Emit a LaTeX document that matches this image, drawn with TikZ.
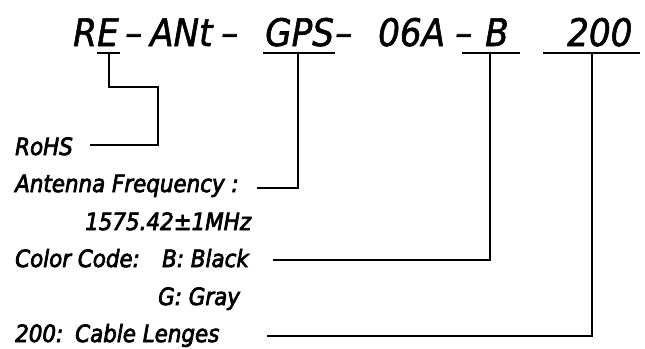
\documentclass[tikz,border=0pt]{standalone}
\usepackage{fontspec}
\setmainfont{DejaVu Sans Condensed}[ItalicFont={DejaVu Sans Condensed Oblique}]
\newfontfamily\partfont{DejaVu Sans Condensed Oblique}[FakeBold=1.5]
\newfontfamily\descfont{DejaVu Sans Condensed Oblique}[FakeBold=3]
\usetikzlibrary{positioning}

\begin{document}
\begin{tikzpicture}[x=1pt, y=-1pt,
  partno/.style={anchor=base west, inner sep=0pt, font=\fontsize{38}{40}\partfont},
  desc/.style={anchor=base west, inner sep=0pt, font=\fontsize{23.8}{28}\descfont},
  lead/.style={line width=1.8pt},
]
\useasboundingbox (0,0) rectangle (645,348);

% part number
\node[partno] (pR)   at (73,46)  {R};
\node[partno] (pE)   at (97,46)  {E};
\node[partno] (d1)   at (125,46) {–};
\node[partno] (pANt) at (150,46) {ANt};
\node[partno] (d2)   at (221,46) {–};
\node[partno] (pGPS) at (265,46) {GPS};
\node[partno] (d3)   at (335,46) {–};
\node[partno] (p06A) at (378,46) {06A};
\node[partno] (d4)   at (455,46) {–};
\node[partno] (pB)   at (485,46) {B};
\node[partno] (p200) at (567,46) {200};

\draw[lead] (97,53) -- (120,53);
\draw[lead] (263,53) -- (335,53);
\draw[lead] (462,53) -- (520,53);
\draw[lead] (543,53) -- (640,53);

\coordinate (uE)   at (109,53);
\coordinate (uGPS) at (298,53);
\coordinate (uB)   at (490,53);
\coordinate (u200) at (592,53);

% descriptions
\node[desc] (rohs) at (15,155) {RoHS};
\node[desc] (freq) at (15,192) {Antenna Frequency :};
\node[desc] (fval) at (85,230) {1575.42±1MHz};
\node[desc] (col)  at (15,267) {Color Code:};
\node[desc] (colB) at (162,267) {B: Black};
\node[desc] (colG) at (158,305) {G: Gray};
\node[desc] (len)  at (15,342) {200:};
\node[desc] (lenC) at (75,342) {Cable Lenges};

\coordinate (eRohs) at (90,145);
\coordinate (eFreq) at (257,188);
\coordinate (eCol)  at (273,260);
\coordinate (eLen)  at (267,336);

\draw[lead] (uE) -- (109,87) -| (158,145) -- (eRohs);
\draw[lead] (uGPS) |- (eFreq);
\draw[lead] (uB) |- (eCol);
\draw[lead] (u200) |- (eLen);
\end{tikzpicture}
\end{document}
